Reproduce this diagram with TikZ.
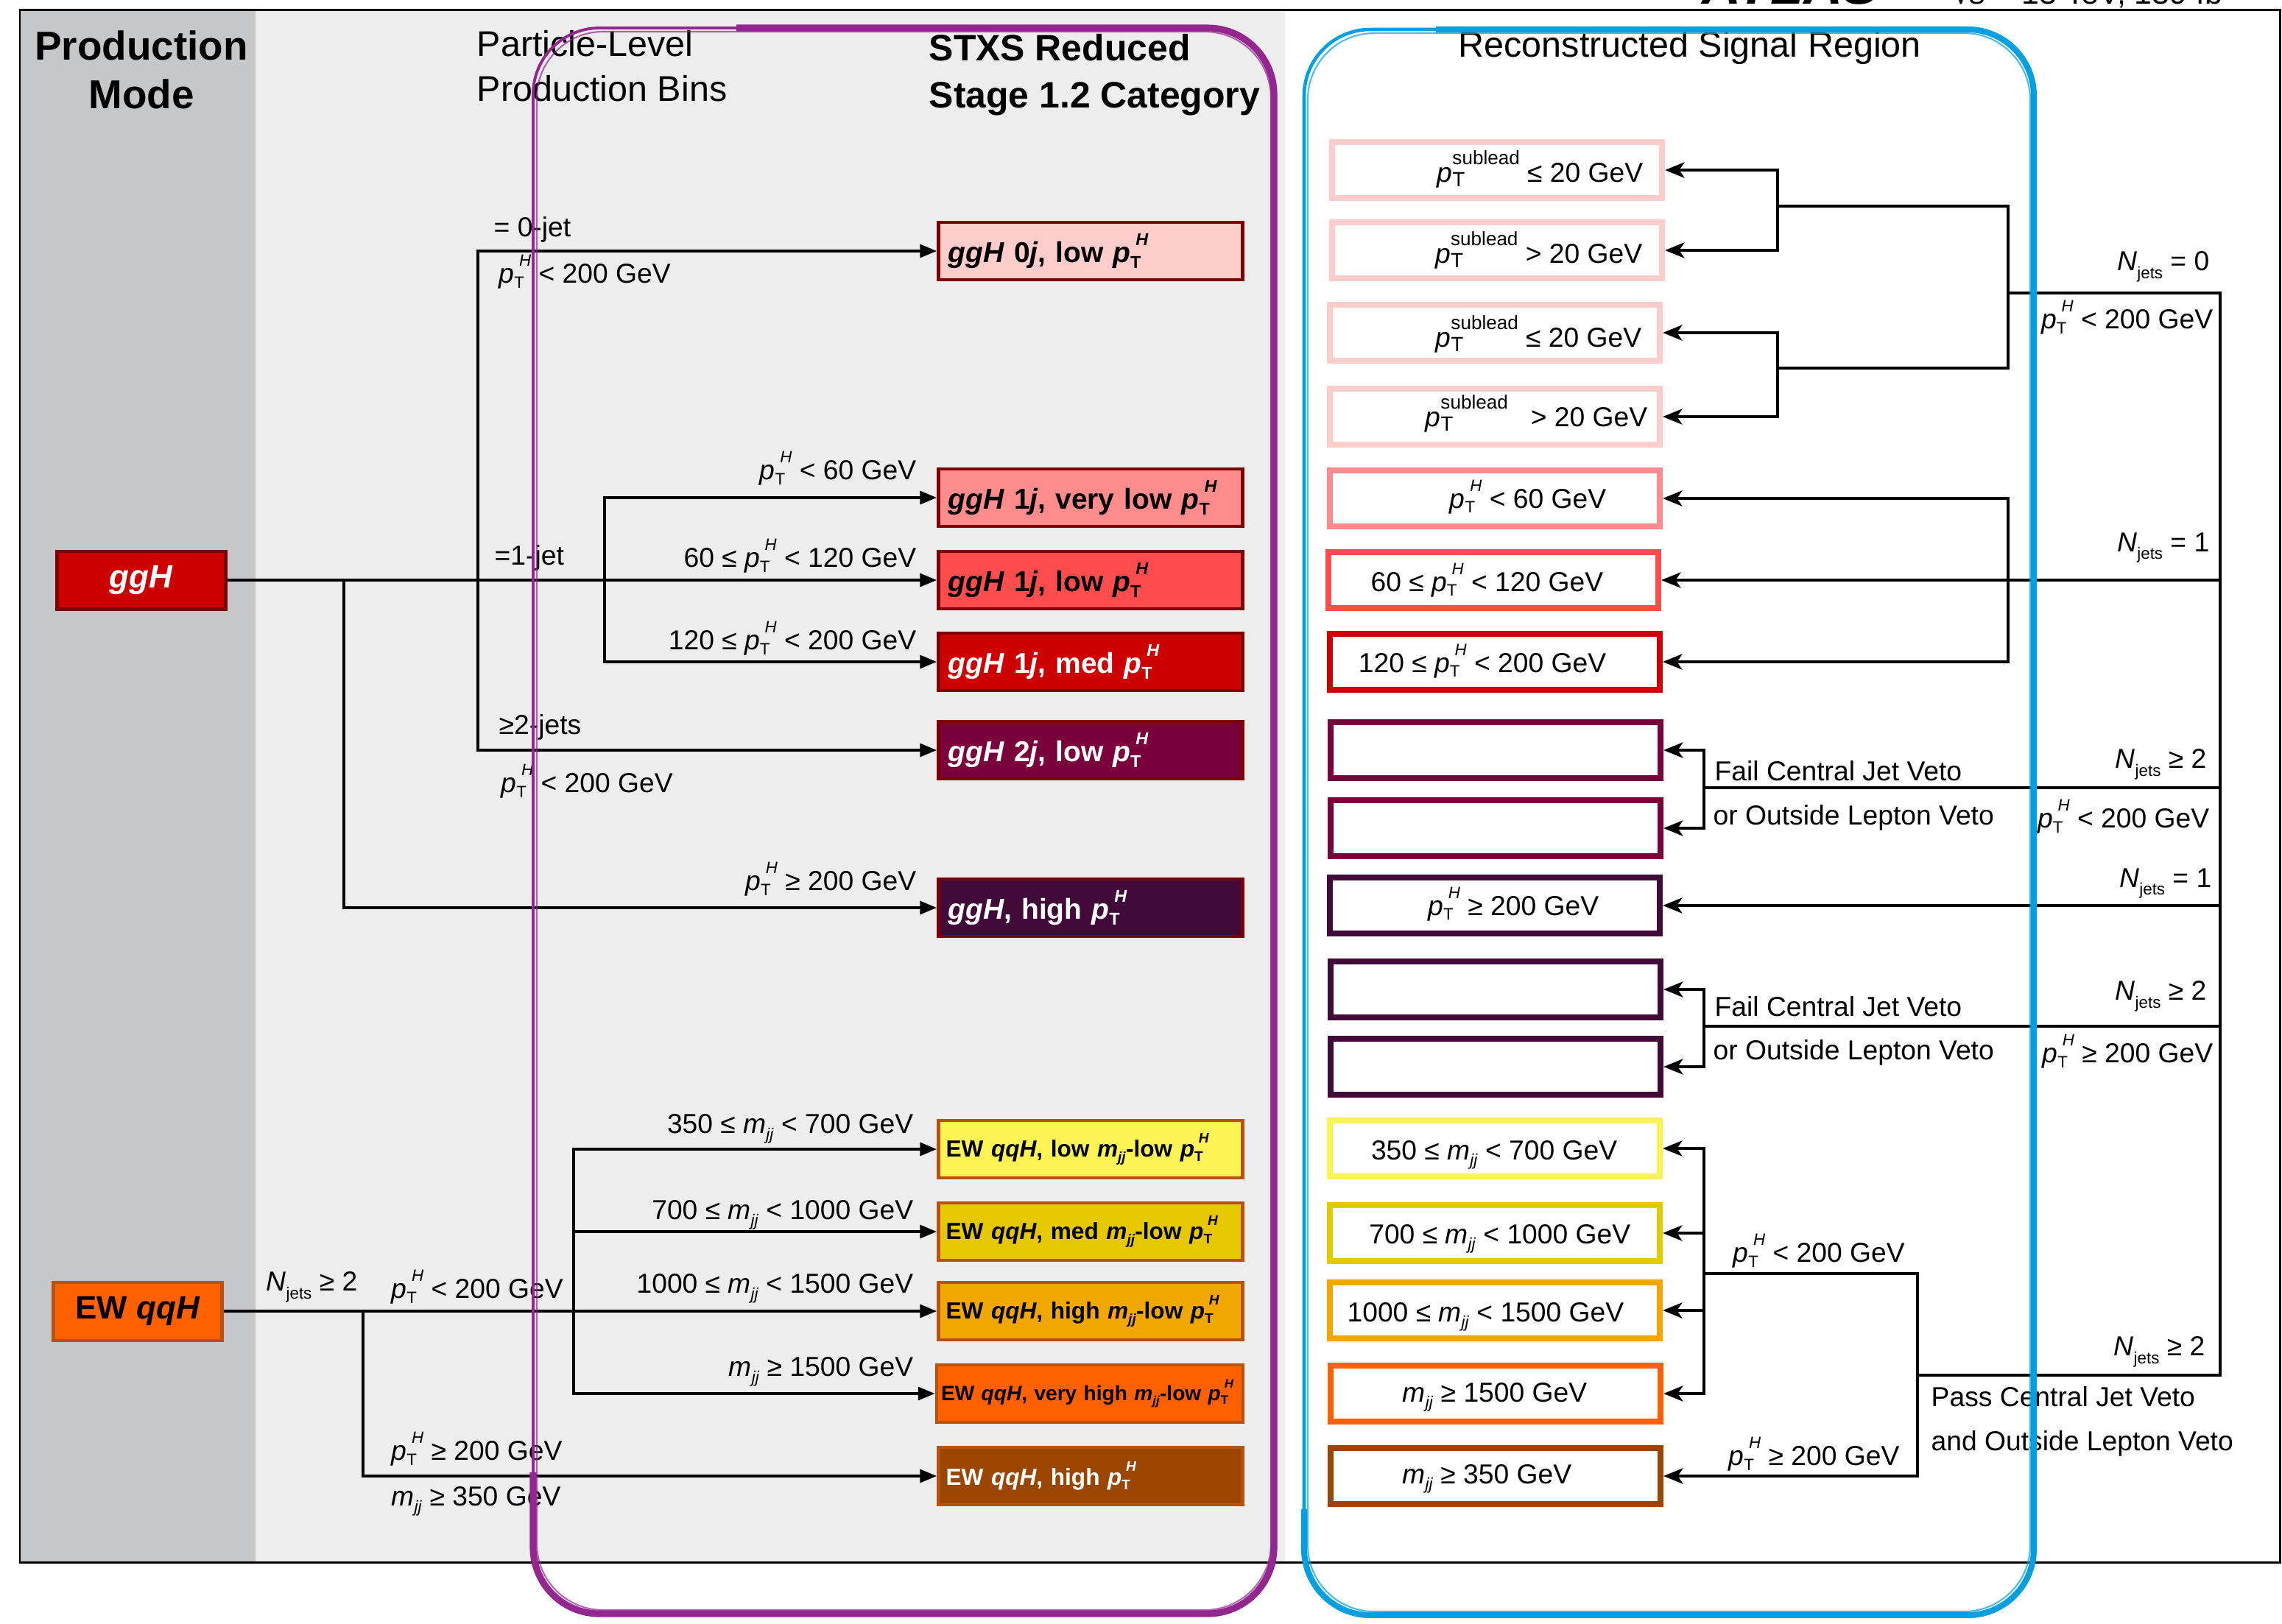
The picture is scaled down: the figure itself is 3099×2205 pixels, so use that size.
\documentclass[tikz,border=0pt]{standalone}
\usepackage{fontspec}
\setmainfont{Liberation Sans}
\usetikzlibrary{arrows.meta}
\makeatletter
\newcommand\smalltext[2]{{\fontsize{\fpeval{#1*\f@size}}{\fpeval{#1*\f@size}}\selectfont #2}}
\makeatother
\newcommand\pTH{\textit{p}\rlap{\raisebox{-0.35ex}{\smalltext{0.6}{T}}}\raisebox{1.15ex}{\smalltext{0.6}{\kern0.3em\textit{H}}}}
\newcommand\mjj{\textit{m}\raisebox{-0.45ex}{\smalltext{0.6}{\textit{jj}}}}
\newcommand\Njets{\textit{N}\raisebox{-0.55ex}{\smalltext{0.6}{jets}}}
\newcommand\pTsub{\textit{p}\rlap{\raisebox{-0.35ex}{\smalltext{0.75}{T}}}\raisebox{1.2ex}{\smalltext{0.7}{sublead}}}
\newcommand\lblfont{\fontsize{10.6}{12.5}\selectfont}
\newcommand\boxfont{\fontsize{11.1}{13}\selectfont\bfseries}
\newcommand\ewfont{\fontsize{9.0}{11}\selectfont\bfseries}
\newcommand\ewsmall{\fontsize{8.0}{10}\selectfont\bfseries}
\newcommand\prodfont{\fontsize{12.5}{15}\selectfont\bfseries}
\newcommand\hdrA{\fontsize{15.6}{18}\selectfont\bfseries}
\newcommand\hdrB{\fontsize{13.8}{16}\selectfont}
\newcommand\hdrC{\fontsize{14.2}{17}\selectfont\bfseries}
\definecolor{gcol}{HTML}{C6C7C9}
\definecolor{lcol}{HTML}{ECEDEC}
\definecolor{ggbd}{HTML}{7B0000}
\definecolor{ca}{HTML}{FFCCCC}
\definecolor{cb}{HTML}{FF8C8C}
\definecolor{cc}{HTML}{FF4D4D}
\definecolor{cd}{HTML}{CC0000}
\definecolor{ce}{HTML}{7A003C}
\definecolor{cf}{HTML}{420A38}
\definecolor{ewbd}{HTML}{B5520F}
\definecolor{ya}{HTML}{FDF355}
\definecolor{yb}{HTML}{E6C800}
\definecolor{yc}{HTML}{F0A800}
\definecolor{yd}{HTML}{FF6000}
\definecolor{ye}{HTML}{9A4500}
\definecolor{purp}{HTML}{93278F}
\definecolor{blu}{HTML}{009FE0}
\tikzset{
  lbl/.style={font=\lblfont, inner sep=0pt},
  lconn/.style={line width=1.2pt, line cap=rect},
  larr/.style={line width=1.2pt, -{Triangle[length=6.5pt,width=5pt]}},
  rarr/.style={line width=1.2pt, -{Stealth[length=7.5pt,width=6pt,inset=2pt]}},
  stxs/.style={draw=ggbd, line width=1.3pt, minimum height=7.8mm, text width=38.7mm, inner xsep=1.3mm, inner ysep=0pt, align=left, font=\boxfont},
  ewbox/.style={stxs, draw=ewbd, font=\ewfont, inner xsep=1.0mm, text width=39.3mm},
  reco/.style={draw, line width=2.3pt, fill=white, minimum width=44.8mm, minimum height=7.6mm, inner sep=0pt},
  prod/.style={line width=1.15pt, minimum width=22.9mm, minimum height=7.9mm, inner sep=0pt, font=\prodfont},
  hdr/.style={inner sep=0pt}
}
\begin{document}
\begin{tikzpicture}[x=0.1mm,y=-0.1mm]
\useasboundingbox (0,0) rectangle (3099,2205);
\fill[white] (0,0) rectangle (3099,2205);
% backgrounds and frame
\fill[gcol] (27,13) rectangle (347,2122);
\fill[lcol] (347,13) rectangle (1745,2122);
\draw[line width=0.85pt] (27,13) rectangle (3096,2122);
% top label, cut off at the page edge as in the reference
\begin{scope}
\clip (0,0) rectangle (3099,11);
\node[anchor=base west, inner sep=0pt, font=\fontsize{20.9}{24}\selectfont\bfseries\itshape] (atl) at (2311,5) {ATLAS};
\node[anchor=base west, inner sep=0pt, font=\fontsize{12.2}{14}\selectfont] (ecm) at (2651,5) {√\textit{s} = 13 TeV, 139 fb\textsuperscript{−1}};
\end{scope}
% headers
\node[hdr, anchor=base, font=\hdrA] (pm1) at (192,81) {Production};
\node[hdr, anchor=base, font=\hdrA] (pm2) at (192,147) {Mode};
\node[hdr, anchor=base west, font=\hdrB] (pl1) at (647,76) {Particle-Level};
\node[hdr, anchor=base west, font=\hdrB] (pl2) at (647,137) {Production Bins};
\node[hdr, anchor=base west, font=\hdrC] (sx1) at (1261,82) {STXS Reduced};
\node[hdr, anchor=base west, font=\hdrC] (sx2) at (1261,146) {Stage 1.2 Category};
\node[hdr, anchor=base west, font=\hdrB] (rsr) at (1980,77) {Reconstructed Signal Region};
% production modes
\node[prod, draw=ggbd, fill=cd, text=white] (ggH) at (192,788) {\textit{ggH}};
\node[prod, draw=ewbd, fill=yd] (ew) at (187,1781) {EW \textit{qqH}};
% STXS categories
\node[stxs, fill=ca] (s0) at (1481,341) {\mbox{\textit{ggH} 0\textit{j}, low \pTH}};
\node[stxs, fill=cb] (s1vl) at (1481,676) {\mbox{\textit{ggH} 1\textit{j}, very low \pTH}};
\node[stxs, fill=cc] (s1l) at (1481,788) {\mbox{\textit{ggH} 1\textit{j}, low \pTH}};
\node[stxs, fill=cd, text=white] (s1m) at (1481,899) {\mbox{\textit{ggH} 1\textit{j}, med \pTH}};
\node[stxs, fill=ce, text=white] (s2) at (1481,1019) {\mbox{\textit{ggH} 2\textit{j}, low \pTH}};
\node[stxs, fill=cf, text=white] (sh) at (1481,1233) {\mbox{\textit{ggH}, high \pTH}};
\node[ewbox, fill=ya] (e1) at (1481,1561) {\mbox{EW \textit{qqH}, low \mjj-low \pTH}};
\node[ewbox, fill=yb] (e2) at (1481,1673) {\mbox{EW \textit{qqH}, med \mjj-low \pTH}};
\node[ewbox, fill=yc] (e3) at (1481,1781) {\mbox{EW \textit{qqH}, high \mjj-low \pTH}};
\node[ewbox, fill=yd, font=\ewsmall, inner xsep=0.6mm, text width=40.4mm] (e4) at (1480,1893) {\mbox{EW \textit{qqH}, very high \mjj-low \pTH}};
\node[ewbox, fill=ye, text=white] (e5) at (1481,2005) {\mbox{EW \textit{qqH}, high \pTH}};
% reco boxes
\node[reco, draw=ca] (r1) at (2033,231) {};
\node[reco, draw=ca] (r2) at (2033,340) {};
\node[reco, draw=ca] (r3) at (2030,452) {};
\node[reco, draw=ca] (r4) at (2030,566) {};
\node[reco, draw=cb] (r5) at (2030,677) {};
\node[reco, draw=cc] (r6) at (2028,788) {};
\node[reco, draw=cd] (r7) at (2030,899) {};
\node[reco, draw=ce] (r8) at (2031,1019) {};
\node[reco, draw=ce] (r9) at (2031,1125) {};
\node[reco, draw=cf] (r10) at (2030,1230) {};
\node[reco, draw=cf] (r11) at (2031,1344) {};
\node[reco, draw=cf] (r12) at (2031,1449) {};
\node[reco, draw=ya] (r13) at (2030,1560) {};
\node[reco, draw=yb] (r14) at (2030,1675) {};
\node[reco, draw=yc] (r15) at (2030,1780) {};
\node[reco, draw=yd] (r16) at (2031,1893) {};
\node[reco, draw=ye] (r17) at (2031,2005) {};
% reco box texts
\node[lbl, anchor=base east] (rt1) at (2232,247) {\pTsub\ ≤ 20 GeV};
\node[lbl, anchor=base east] (rt2) at (2231,357) {\pTsub\ > 20 GeV};
\node[lbl, anchor=base east] (rt3) at (2230,471) {\pTsub\ ≤ 20 GeV};
\node[lbl, anchor=base east] (rt4) at (2238,579) {\pTsub\ \ \ > 20 GeV};
\node[lbl, anchor=base east] (rt5) at (2182,690) {\pTH\ < 60 GeV};
\node[lbl, anchor=base east] (rt6) at (2178,803) {60 ≤ \pTH\ < 120 GeV};
\node[lbl, anchor=base east] (rt7) at (2182,913) {120 ≤ \pTH\ < 200 GeV};
\node[lbl, anchor=base east] (rt10) at (2172,1243) {\pTH\ ≥ 200 GeV};
\node[lbl, anchor=base east] (rt13) at (2197,1575) {350 ≤ \mjj\ < 700 GeV};
\node[lbl, anchor=base east] (rt14) at (2215,1689) {700 ≤ \mjj\ < 1000 GeV};
\node[lbl, anchor=base east] (rt15) at (2206,1795) {1000 ≤ \mjj\ < 1500 GeV};
\node[lbl, anchor=base east] (rt16) at (2156,1904) {\mjj\ ≥ 1500 GeV};
\node[lbl, anchor=base east] (rt17) at (2135,2015) {\mjj\ ≥ 350 GeV};
% branch coordinates
\coordinate (xg1) at (467,0);
\coordinate (xg2) at (649,0);
\coordinate (xg3) at (821,0);
\coordinate (xe1) at (493,0);
\coordinate (xe2) at (779,0);
\coordinate (bx1) at (2414,0);
\coordinate (bx2) at (2727,0);
\coordinate (bx3) at (3015,0);
\coordinate (bx4) at (2314,0);
\coordinate (bx5) at (2604,0);
\coordinate (m1) at (2414,280);
\coordinate (m2) at (2414,500);
\coordinate (n0) at (3015,398);
\coordinate (v2a) at (3015,1070);
\coordinate (v2b) at (3015,1394);
\coordinate (vbf) at (3015,1868);
\coordinate (pt2) at (2604,1730);
% left connectors: ggH
\draw[larr] (ggH) -- (s1l);
\draw[larr] (ggH.east -| xg1) |- (sh);
\draw[lconn] (xg2 |- s0) -- (xg2 |- s2);
\draw[larr] (xg2 |- s0) -- (s0);
\draw[larr] (xg2 |- s2) -- (s2);
\draw[lconn] (xg3 |- s1vl) -- (xg3 |- s1m);
\draw[larr] (xg3 |- s1vl) -- (s1vl);
\draw[larr] (xg3 |- s1m) -- (s1m);
% left connectors: EW qqH
\draw[larr] (ew) -- (e3);
\draw[larr] (ew.east -| xe1) |- (e5);
\draw[lconn] (xe2 |- e1) -- (xe2 |- e4);
\draw[larr] (xe2 |- e1) -- (e1);
\draw[larr] (xe2 |- e2) -- (e2);
\draw[larr] (xe2 |- e4) -- (e4);
% right connectors
\draw[lconn] (bx1 |- r1) -- (bx1 |- r2);
\draw[rarr] (bx1 |- r1) -- (r1);
\draw[rarr] (bx1 |- r2) -- (r2);
\draw[lconn] (bx1 |- r3) -- (bx1 |- r4);
\draw[rarr] (bx1 |- r3) -- (r3);
\draw[rarr] (bx1 |- r4) -- (r4);
\draw[lconn] (m1) -| (bx2 |- m2) -- (m2);
\draw[lconn] (n0) -- (n0 -| bx2);
\draw[lconn] (n0) -- (vbf);
\draw[lconn] (bx2 |- r5) -- (bx2 |- r7);
\draw[rarr] (bx2 |- r5) -- (r5);
\draw[rarr] (bx3 |- r6) -- (r6);
\draw[rarr] (bx2 |- r7) -- (r7);
\draw[lconn] (v2a) -- (v2a -| bx4);
\draw[lconn] (bx4 |- r8) -- (bx4 |- r9);
\draw[rarr] (bx4 |- r8) -- (r8);
\draw[rarr] (bx4 |- r9) -- (r9);
\draw[rarr] (bx3 |- r10) -- (r10);
\draw[lconn] (v2b) -- (v2b -| bx4);
\draw[lconn] (bx4 |- r11) -- (bx4 |- r12);
\draw[rarr] (bx4 |- r11) -- (r11);
\draw[rarr] (bx4 |- r12) -- (r12);
\draw[lconn] (vbf) -- (vbf -| bx5);
\draw[lconn] (pt2) -- (bx5 |- r17);
\draw[lconn] (pt2) -- (pt2 -| bx4);
\draw[lconn] (bx4 |- r13) -- (bx4 |- r16);
\draw[rarr] (bx4 |- r13) -- (r13);
\draw[rarr] (bx4 |- r14) -- (r14);
\draw[rarr] (bx4 |- r15) -- (r15);
\draw[rarr] (bx4 |- r16) -- (r16);
\draw[rarr] (bx5 |- r17) -- (r17);
% left labels
\node[lbl, anchor=west] (la1) at (670,312) {= 0-jet};
\node[lbl, anchor=west] (la2) at (677,369) {\pTH\ < 200 GeV};
\node[lbl, anchor=west] (la3) at (671,758) {=1-jet};
\node[lbl, anchor=west] (la4) at (677,988) {≥2-jets};
\node[lbl, anchor=west] (la5) at (680,1061) {\pTH\ < 200 GeV};
\node[lbl, anchor=east] (la6) at (1245,636) {\pTH\ < 60 GeV};
\node[lbl, anchor=east] (la7) at (1245,755) {60 ≤ \pTH\ < 120 GeV};
\node[lbl, anchor=east] (la8) at (1245,867) {120 ≤ \pTH\ < 200 GeV};
\node[lbl, anchor=east] (la9) at (1245,1194) {\pTH\ ≥ 200 GeV};
\node[lbl, anchor=west] (lb1) at (361,1748) {\Njets\ ≥ 2};
\node[lbl, anchor=west] (lb2) at (531,1748) {\pTH\ < 200 GeV};
\node[lbl, anchor=east] (lb3) at (1241,1533) {350 ≤ \mjj\ < 700 GeV};
\node[lbl, anchor=east] (lb4) at (1241,1650) {700 ≤ \mjj\ < 1000 GeV};
\node[lbl, anchor=east] (lb5) at (1241,1750) {1000 ≤ \mjj\ < 1500 GeV};
\node[lbl, anchor=east] (lb6) at (1241,1863) {\mjj\ ≥ 1500 GeV};
\node[lbl, anchor=west] (lb7) at (531,1968) {\pTH\ ≥ 200 GeV};
\node[lbl, anchor=west] (lb8) at (531,2039) {\mjj\ ≥ 350 GeV};
% right labels
\node[lbl, anchor=east] (lc1) at (3001,362) {\Njets\ = 0};
\node[lbl, anchor=east] (lc2) at (3006,431) {\pTH\ < 200 GeV};
\node[lbl, anchor=east] (lc3) at (3001,744) {\Njets\ = 1};
\node[lbl, anchor=west] (lc4) at (2328,1047) {Fail Central Jet Veto};
\node[lbl, anchor=west] (lc5) at (2326,1111) {or Outside Lepton Veto};
\node[lbl, anchor=east] (lc6) at (2997,1038) {\Njets\ ≥ 2};
\node[lbl, anchor=east] (lc7) at (3001,1109) {\pTH\ < 200 GeV};
\node[lbl, anchor=east] (lc8) at (3004,1200) {\Njets\ = 1};
\node[lbl, anchor=west] (lc9) at (2328,1367) {Fail Central Jet Veto};
\node[lbl, anchor=west] (lc10) at (2326,1430) {or Outside Lepton Veto};
\node[lbl, anchor=east] (lc11) at (2997,1353) {\Njets\ ≥ 2};
\node[lbl, anchor=east] (lc12) at (3006,1428) {\pTH\ ≥ 200 GeV};
\node[lbl, anchor=west] (lc13) at (2353,1699) {\pTH\ < 200 GeV};
\node[lbl, anchor=west] (lc14) at (2347,1975) {\pTH\ ≥ 200 GeV};
\node[lbl, anchor=east] (lc15) at (2995,1836) {\Njets\ ≥ 2};
\node[lbl, anchor=west] (lc16) at (2622,1897) {Pass Central Jet Veto};
\node[lbl, anchor=west] (lc17) at (2622,1961) {and Outside Lepton Veto};
% sketchy outlines
\draw[purp, line width=1.1pt, rounded corners=9mm] (724,38) rectangle (1730,2192);
\draw[purp, line width=0.6pt, rounded corners=9mm, opacity=0.7] (729,43) rectangle (1726,2187);
\draw[purp, line width=2.6pt, rounded corners=9mm] (1000,38) -- (1730,38) -- (1730,2192) -- (724,2192) -- (724,2000);
\draw[blu, line width=1.3pt, rounded corners=9mm] (1771,40) rectangle (2762,2194);
\draw[blu, line width=0.6pt, rounded corners=9mm, opacity=0.7] (1776,45) rectangle (2757,2189);
\draw[blu, line width=2.3pt, rounded corners=9mm] (1950,40) -- (2762,40) -- (2762,2194) -- (1771,2194) -- (1771,2050);
\end{tikzpicture}
\end{document}
